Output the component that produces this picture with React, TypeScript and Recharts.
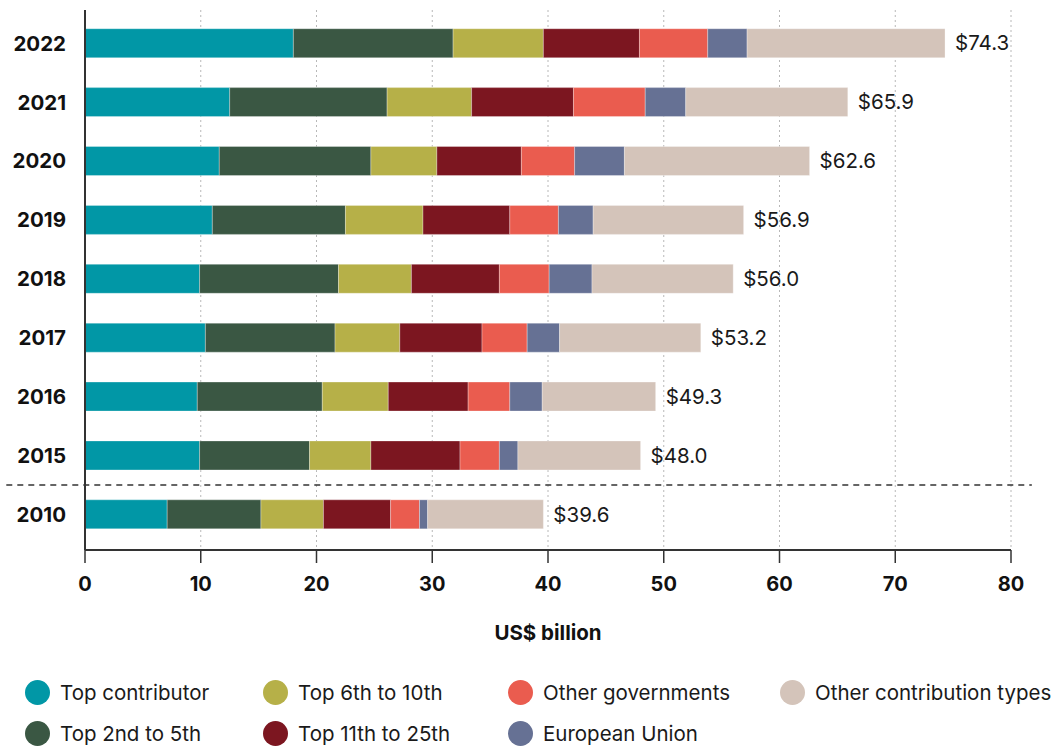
import React from "react";
import {
  BarChart,
  Bar,
  XAxis,
  YAxis,
  CartesianGrid,
  LabelList,
  ReferenceLine,
  Label,
} from "recharts";

const years = ["2022", "2021", "2020", "2019", "2018", "2017", "2016", "2015", "2010"];
const topContributor = [18.0, 12.5, 11.6, 11.0, 9.9, 10.4, 9.7, 9.9, 7.1];
const top2to5 = [13.8, 13.6, 13.1, 11.5, 12.0, 11.2, 10.8, 9.5, 8.1];
const top6to10 = [7.8, 7.3, 5.7, 6.7, 6.3, 5.6, 5.7, 5.3, 5.4];
const top11to25 = [8.3, 8.8, 7.3, 7.5, 7.6, 7.1, 6.9, 7.7, 5.8];
const otherGovernments = [5.9, 6.2, 4.6, 4.2, 4.3, 3.9, 3.6, 3.4, 2.5];
const europeanUnion = [3.4, 3.5, 4.3, 3.0, 3.7, 2.8, 2.8, 1.6, 0.7];
const otherTypes = [17.1, 14.0, 16.0, 13.0, 12.2, 12.2, 9.8, 10.6, 10.0];
const totals = [74.3, 65.9, 62.6, 56.9, 56.0, 53.2, 49.3, 48.0, 39.6];
const xTicks = [0, 10, 20, 30, 40, 50, 60, 70, 80];

const series = [
  { key: "top", name: "Top contributor", color: "#0197A6", values: topContributor },
  { key: "t2", name: "Top 2nd to 5th", color: "#3A5743", values: top2to5 },
  { key: "t6", name: "Top 6th to 10th", color: "#B6B048", values: top6to10 },
  { key: "t11", name: "Top 11th to 25th", color: "#7C1620", values: top11to25 },
  { key: "og", name: "Other governments", color: "#EA5C4F", values: otherGovernments },
  { key: "eu", name: "European Union", color: "#667194", values: europeanUnion },
  { key: "oth", name: "Other contribution types", color: "#D4C4BA", values: otherTypes },
];

// legend arranged column-wise in 4 columns, 2 rows
const legendColumns = [
  ["top", "t2"],
  ["t6", "t11"],
  ["og", "eu"],
  ["oth"],
];
const legendColumnWidths = [238, 245, 272, 273];

const data = years.map((y, i) => {
  const row: Record<string, any> = { year: y, total: totals[i] };
  series.forEach((s) => {
    row[s.key] = s.values[i];
  });
  return row;
});

const FONT = "Inter, 'Noto Sans', sans-serif";

export default function App() {
  return (
    <div
      style={{
        position: "absolute",
        left: 0,
        top: 0,
        width: 1053,
        height: 747,
        background: "#fff",
        fontFamily: FONT,
      }}
    >
      <BarChart
        width={1053}
        height={660}
        data={data}
        layout="vertical"
        margin={{ top: 10, right: 42, left: 0, bottom: 10 }}
        barCategoryGap="25%"
      >
        <CartesianGrid
          horizontal={false}
          vertical={true}
          stroke="#b8b8b8"
          strokeDasharray="2 3"
        />
        <XAxis
          type="number"
          domain={[0, 80]}
          ticks={xTicks}
          height={100}
          tickSize={13}
          tickMargin={14}
          axisLine={{ stroke: "#333", strokeWidth: 2 }}
          tickLine={{ stroke: "#333", strokeWidth: 1.5 }}
          tick={{ fontFamily: FONT, fontWeight: 700, fontSize: 20, fill: "#111" }}
        >
          <Label
            value="US$ billion"
            position="insideBottom"
            offset={10}
            style={{ fontFamily: FONT, fontWeight: 700, fontSize: 20.5, fill: "#111" }}
          />
        </XAxis>
        <YAxis
          type="category"
          dataKey="year"
          width={85}
          tickSize={0}
          tickMargin={19}
          padding={{ top: 4, bottom: 6 }}
          axisLine={{ stroke: "#333", strokeWidth: 2 }}
          tickLine={false}
          tick={{ fontFamily: FONT, fontWeight: 700, fontSize: 20.5, fill: "#111" }}
        />
        {series.map((s, idx) => (
          <Bar
            key={s.key}
            dataKey={s.key}
            name={s.name}
            stackId="a"
            fill={s.color}
            stroke="rgba(255,255,255,0.5)"
            strokeWidth={0.6}
            isAnimationActive={false}
          >
            {idx === series.length - 1 ? (
              <LabelList
                dataKey="total"
                position="right"
                offset={10}
                formatter={(v: any) => `$${Number(v).toFixed(1)}`}
                style={{ fontFamily: FONT, fontSize: 20.5, fill: "#1a1a1a" }}
              />
            ) : null}
          </Bar>
        ))}
        <ReferenceLine
          segment={[
            { x: -6.8, y: "2015" },
            { x: 81.8, y: "2015" },
          ]}
          position="end"
          ifOverflow="visible"
          stroke="#333"
          strokeWidth={1.5}
          strokeDasharray="6 5"
        />
      </BarChart>
      <div
        style={{
          position: "absolute",
          left: 25,
          top: 672,
          display: "flex",
          fontFamily: FONT,
          fontSize: 20.5,
          color: "#1a1a1a",
        }}
      >
        {legendColumns.map((col, ci) => (
          <div key={ci} style={{ width: legendColumnWidths[ci] }}>
            {col.map((k) => {
              const s = series.find((x) => x.key === k)!;
              return (
                <div
                  key={k}
                  style={{ display: "flex", alignItems: "center", height: 41, whiteSpace: "nowrap" }}
                >
                  <span
                    style={{
                      display: "inline-block",
                      width: 25,
                      height: 25,
                      borderRadius: "50%",
                      background: s.color,
                      marginRight: 10,
                      flexShrink: 0,
                    }}
                  />
                  <span>{s.name}</span>
                </div>
              );
            })}
          </div>
        ))}
      </div>
    </div>
  );
}
